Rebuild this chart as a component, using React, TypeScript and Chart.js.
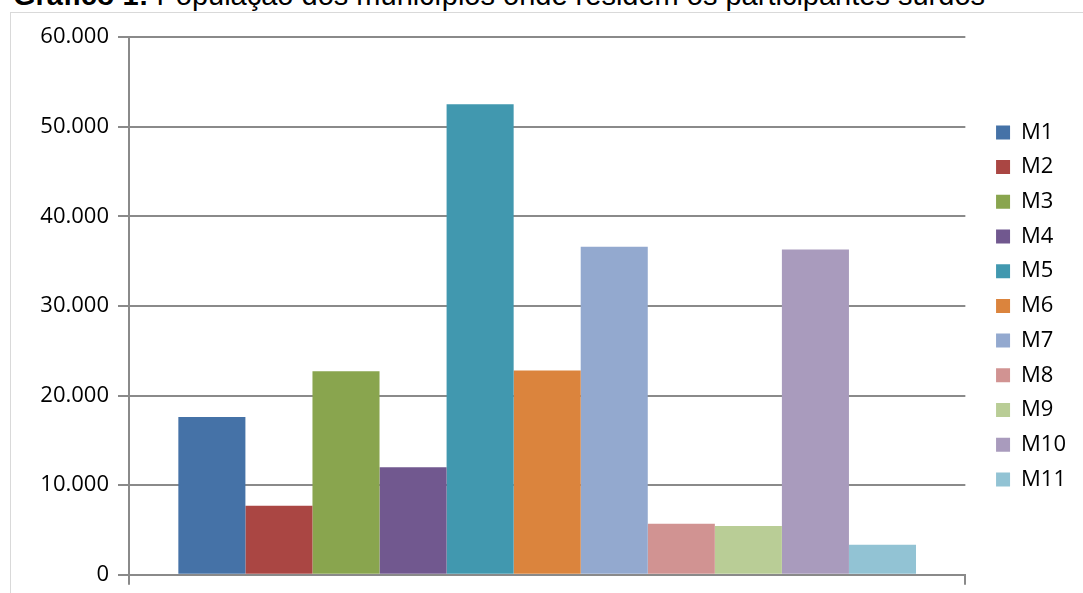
import { useEffect, useRef } from 'react';
import { Chart, registerables } from 'chart.js';

Chart.register(...registerables);

// Single category; each municipality is its own series so the legend lists them.
const categories = [''];
const municipios = ['M1', 'M2', 'M3', 'M4', 'M5', 'M6', 'M7', 'M8', 'M9', 'M10', 'M11'];
const populacao = [17600, 7700, 22700, 12000, 52500, 22800, 36600, 5700, 5450, 36300, 3350];
const cores = [
  '#4572A7', '#AA4643', '#89A54E', '#71588F', '#4198AF', '#DB843D',
  '#93A9CF', '#D19392', '#B9CD96', '#A99BBD', '#92C3D4',
];
const yMin = 0;
const yMax = 60000;
const yStep = 10000;

const tituloRotulo = 'Gráfico 1:';
const tituloTexto = 'População dos municípios onde residem os participantes surdos';

const GRID = '#8a8a8a';
const FONT = { family: '"Open Sans", "Liberation Sans", sans-serif', size: 22 };

// 60000 -> "60.000"
const formatMilhar = (v: number) =>
  String(Math.round(v)).replace(/\B(?=(\d{3})+(?!\d))/g, '.');

export default function App() {
  const canvasRef = useRef<HTMLCanvasElement>(null);

  useEffect(() => {
    const chart = new Chart(canvasRef.current!, {
      type: 'bar',
      data: {
        labels: categories,
        datasets: municipios.map((nome, i) => ({
          label: nome,
          data: [populacao[i]],
          backgroundColor: cores[i],
          borderWidth: 0,
          barPercentage: 1,
          categoryPercentage: 0.882,
        })),
      },
      options: {
        animation: false,
        responsive: false,
        devicePixelRatio: 1,
        layout: { padding: { top: 24, bottom: 4, left: 0, right: 7 } },
        plugins: {
          legend: {
            position: 'right',
            fullSize: false,
            labels: {
              boxWidth: 14,
              boxHeight: 14,
              padding: 12.7,
              color: '#000',
              font: FONT,
            },
          },
          tooltip: { enabled: false },
        },
        scales: {
          x: {
            type: 'category',
            offset: true,
            grid: {
              offset: true,
              drawOnChartArea: false,
              drawTicks: true,
              tickLength: 10,
              color: GRID,
              lineWidth: 2,
            },
            border: { color: GRID, width: 2 },
            ticks: { display: false },
          },
          y: {
            min: yMin,
            max: yMax,
            ticks: {
              stepSize: yStep,
              padding: 9,
              color: '#000',
              font: FONT,
              callback: (v) => formatMilhar(Number(v)),
            },
            grid: { color: GRID, lineWidth: 2, tickLength: 11 },
            border: { color: GRID, width: 2 },
            afterFit: (s) => {
              s.width = 118;
            },
          },
          // empty gap between the plot and the legend
          gap: {
            type: 'linear',
            position: 'right',
            display: true,
            grid: { display: false },
            border: { display: false },
            ticks: { display: false },
            afterFit: (s) => {
              s.width = 18;
            },
          },
        },
      },
    });
    return () => chart.destroy();
  }, []);

  return (
    <div
      style={{
        position: 'fixed',
        left: 0,
        top: 0,
        width: 1083,
        height: 593,
        overflow: 'hidden',
        background: '#fff',
      }}
    >
      <div
        style={{
          position: 'absolute',
          left: 13,
          top: -19.5,
          whiteSpace: 'nowrap',
          fontFamily: '"Liberation Sans", Arial, sans-serif',
          fontSize: 29,
          lineHeight: '29px',
          color: '#000',
        }}
      >
        <b>{tituloRotulo}</b> {tituloTexto}
      </div>
      <div
        style={{
          position: 'absolute',
          left: 10,
          top: 12,
          width: 1100,
          height: 600,
          border: '1px solid #d9d9d9',
          boxSizing: 'border-box',
        }}
      />
      <canvas
        ref={canvasRef}
        width={1072}
        height={584}
        style={{ position: 'absolute', left: 11, top: 13 }}
      />
    </div>
  );
}
